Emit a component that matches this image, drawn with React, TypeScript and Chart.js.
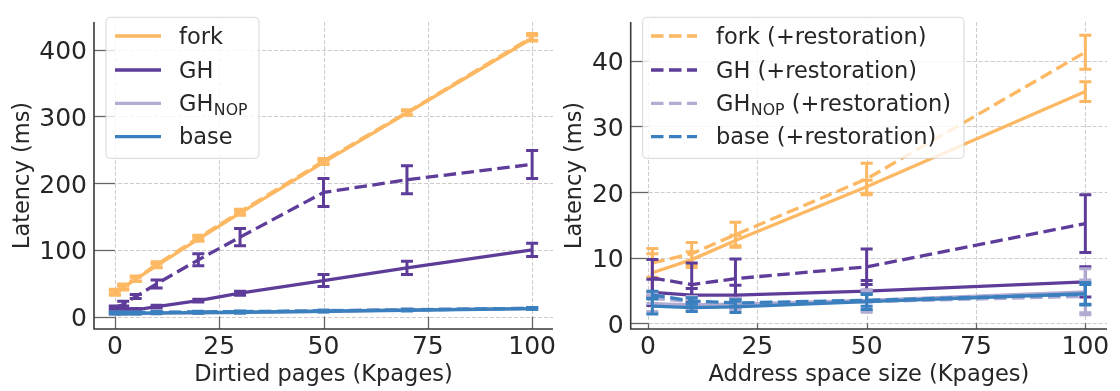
import { useEffect, useRef } from 'react';
import { Chart, registerables } from 'chart.js';

Chart.register(...registerables);

const FONT = '"DejaVu Sans", "Liberation Sans", sans-serif';
const TEXT = '#262626';
const ORANGE = '#fdb863';
const PURPLE = '#5e3c99';
const LAVENDER = '#b2abd2';
const BLUE = '#3a80bf';

// ---------- Left panel: Dirtied pages ----------
const leftX = [0, 2, 5, 10, 20, 30, 50, 70, 100];
const leftForkSolid = [35, 43, 56, 76, 116, 155, 231, 305, 417];
const leftForkSolidErr = [3, 3, 3, 3, 3, 3, 3, 3, 4];
const leftForkDashed = [37, 45, 57, 78, 118, 157, 233, 306, 419];
const leftForkDashedErr = [4, 4, 4, 4, 4, 4, 4, 4, 5];
const leftGhSolid = [13, 12, 10, 15, 24, 35, 54, 73, 100];
const leftGhSolidErr = [2, 4, 2, 2, 2, 3, 9, 10, 10];
const leftGhDashed = [13, 18, 30, 49, 85, 119, 186, 205, 228];
const leftGhDashedErr = [3, 5, 3, 6, 9, 13, 21, 21, 21];
const leftNopSolid = [4.5, 4.5, 4.5, 5, 5.5, 6, 8, 10, 12];
const leftNopSolidErr = [1, 1, 1, 1, 1, 1, 1, 1, 1];
const leftNopDashed = [5.5, 5.5, 5.5, 6, 6.5, 7, 9, 10.5, 12.5];
const leftNopDashedErr = [1, 1, 1, 1, 1, 1, 1, 1, 1];
const leftBaseSolid = [5, 5, 5, 5.5, 6, 6.5, 8, 9.5, 12];
const leftBaseSolidErr = [1, 1, 1, 1, 1, 1, 1, 1, 1];
const leftBaseDashed = [6, 6, 6, 6.5, 7, 7.5, 8.5, 10, 12.5];
const leftBaseDashedErr = [1, 1, 1, 1, 1, 1, 1, 1, 1];
const leftXTicks = [0, 25, 50, 75, 100];
const leftYTicks = [0, 100, 200, 300, 400];

// ---------- Right panel: Address space size ----------
const rightX = [1, 10, 20, 50, 100];
const rightForkSolid = [7.7, 9.7, 12.6, 20.8, 35.3];
const rightForkSolidErr = [2.9, 1.2, 0.8, 1.0, 1.5];
const rightForkDashed = [9.2, 10.6, 13.5, 22.0, 41.3];
const rightForkDashedErr = [2.2, 1.7, 1.9, 2.4, 2.6];
const rightGhSolid = [4.7, 4.3, 4.3, 4.9, 6.3];
const rightGhSolidErr = [2.0, 1.0, 1.5, 1.6, 2.3];
const rightGhDashed = [6.9, 5.9, 6.8, 8.6, 15.2];
const rightGhDashedErr = [2.8, 3.3, 3.0, 2.7, 4.4];
const rightNopSolid = [3.0, 2.8, 2.9, 3.5, 4.8];
const rightNopSolidErr = [1.2, 0.8, 0.8, 1.6, 3.5];
const rightNopDashed = [3.8, 3.3, 3.0, 3.3, 4.1];
const rightNopDashedErr = [0.8, 0.8, 0.8, 1.6, 2.5];
const rightBaseSolid = [2.6, 2.4, 2.5, 3.3, 4.5];
const rightBaseSolidErr = [1.2, 0.6, 0.85, 1.2, 1.7];
const rightBaseDashed = [4.3, 3.4, 3.1, 3.5, 4.4];
const rightBaseDashedErr = [0.6, 0.5, 0.5, 0.9, 1.5];
const rightXTicks = [0, 25, 50, 75, 100];
const rightYTicks = [0, 10, 20, 30, 40];

const leftLegendLabels = [
  { main: 'fork', sub: '', suffix: '' },
  { main: 'GH', sub: '', suffix: '' },
  { main: 'GH', sub: 'NOP', suffix: '' },
  { main: 'base', sub: '', suffix: '' },
];
const rightLegendLabels = [
  { main: 'fork (+restoration)', sub: '', suffix: '' },
  { main: 'GH (+restoration)', sub: '', suffix: '' },
  { main: 'GH', sub: 'NOP', suffix: ' (+restoration)' },
  { main: 'base (+restoration)', sub: '', suffix: '' },
];
const legendColors = [ORANGE, PURPLE, LAVENDER, BLUE];

const DASH = [12.5, 5.5];
const LW = 3.3;
const LABEL_PX = 22.5;

function series(xs: number[], ys: number[], errs: number[], color: string, dashed: boolean) {
  return {
    data: xs.map((x, i) => ({ x, y: ys[i] })),
    errors: errs,
    borderColor: color,
    backgroundColor: color,
    borderWidth: LW,
    borderDash: dashed ? DASH : [],
    borderCapStyle: 'butt',
    borderJoinStyle: 'round',
    pointRadius: 0,
    pointHoverRadius: 0,
    tension: 0,
    fill: false,
  };
}

interface PanelSpec {
  xs: number[];
  sets: [number[], number[], string, boolean][];
  xMin: number; xMax: number; yMin: number; yMax: number;
  xTicks: number[]; yTicks: number[];
  yAxisWidth: number; padRight: number;
  xTitle: string; yTitleX: number;
  legend: {
    box: [number, number, number, number];
    sx1: number; sx2: number; tx: number; rows: number[];
    labels: { main: string; sub: string; suffix: string }[];
    dashed: boolean;
  };
}

function makePlugin(spec: PanelSpec) {
  return {
    id: 'deco',
    beforeDatasetsDraw(chart: any) {
      const { ctx, chartArea: a, scales } = chart;
      const xs = scales.x, ys = scales.y;
      ctx.save();
      ctx.strokeStyle = '#cccccc';
      ctx.lineWidth = 1;
      ctx.setLineDash([4, 2]);
      spec.xTicks.forEach((v) => {
        const px = Math.round(xs.getPixelForValue(v)) + 0.5;
        ctx.beginPath(); ctx.moveTo(px, a.top); ctx.lineTo(px, a.bottom); ctx.stroke();
      });
      spec.yTicks.forEach((v) => {
        const py = Math.round(ys.getPixelForValue(v)) + 0.5;
        ctx.beginPath(); ctx.moveTo(a.left, py); ctx.lineTo(a.right, py); ctx.stroke();
      });
      ctx.restore();
    },
    afterDatasetDraw(chart: any, args: any) {
      const ds = chart.data.datasets[args.index];
      if (!ds.errors) return;
      const { ctx, scales } = chart;
      const xs = scales.x, ys = scales.y;
      ctx.save();
      ctx.strokeStyle = ds.borderColor;
      ctx.lineWidth = 3;
      ctx.setLineDash([]);
      ctx.lineCap = 'butt';
      ds.data.forEach((p: any, i: number) => {
        const e = ds.errors[i];
        const px = xs.getPixelForValue(p.x);
        const yt = ys.getPixelForValue(p.y + e);
        const yb = ys.getPixelForValue(p.y - e);
        ctx.beginPath();
        ctx.moveTo(px, yt); ctx.lineTo(px, yb);
        ctx.moveTo(px - 6, yt); ctx.lineTo(px + 6, yt);
        ctx.moveTo(px - 6, yb); ctx.lineTo(px + 6, yb);
        ctx.stroke();
      });
      ctx.restore();
    },
    afterDatasetsDraw(chart: any) {
      const { ctx, chartArea: a, scales } = chart;
      const xs = scales.x, ys = scales.y;
      ctx.save();
      ctx.setLineDash([]);
      // tick marks
      ctx.strokeStyle = '#666666';
      ctx.lineWidth = 1.3;
      const x0 = xs.getPixelForValue(0);
      const y0 = ys.getPixelForValue(0);
      spec.yTicks.forEach((v) => {
        const py = Math.round(ys.getPixelForValue(v)) + 0.5;
        ctx.beginPath(); ctx.moveTo(a.left, py); ctx.lineTo(x0, py); ctx.stroke();
      });
      spec.xTicks.forEach((v) => {
        const px = Math.round(xs.getPixelForValue(v)) + 0.5;
        ctx.beginPath(); ctx.moveTo(px, a.bottom); ctx.lineTo(px, y0); ctx.stroke();
      });
      // spines
      ctx.strokeStyle = '#3a3a3a';
      ctx.lineWidth = 1.6;
      ctx.beginPath();
      ctx.moveTo(a.left, a.top); ctx.lineTo(a.left, a.bottom); ctx.lineTo(a.right, a.bottom);
      ctx.stroke();

      // legend
      const L = spec.legend;
      const [bx1, by1, bx2, by2] = L.box;
      const r = 4.5;
      ctx.beginPath();
      ctx.moveTo(bx1 + r, by1);
      ctx.lineTo(bx2 - r, by1); ctx.quadraticCurveTo(bx2, by1, bx2, by1 + r);
      ctx.lineTo(bx2, by2 - r); ctx.quadraticCurveTo(bx2, by2, bx2 - r, by2);
      ctx.lineTo(bx1 + r, by2); ctx.quadraticCurveTo(bx1, by2, bx1, by2 - r);
      ctx.lineTo(bx1, by1 + r); ctx.quadraticCurveTo(bx1, by1, bx1 + r, by1);
      ctx.closePath();
      ctx.fillStyle = 'rgba(255,255,255,0.8)';
      ctx.fill();
      ctx.strokeStyle = 'rgba(204,204,204,0.8)';
      ctx.lineWidth = 1;
      ctx.stroke();
      L.labels.forEach((lab, i) => {
        const cy = L.rows[i];
        ctx.strokeStyle = legendColors[i];
        ctx.lineWidth = LW;
        ctx.setLineDash(L.dashed ? DASH : []);
        ctx.beginPath(); ctx.moveTo(L.sx1, cy); ctx.lineTo(L.sx2, cy); ctx.stroke();
        ctx.setLineDash([]);
        ctx.fillStyle = TEXT;
        ctx.textAlign = 'left';
        ctx.textBaseline = 'alphabetic';
        const base = cy + 7.5;
        let tx = L.tx;
        ctx.font = `${LABEL_PX}px ${FONT}`;
        ctx.fillText(lab.main, tx, base);
        tx += ctx.measureText(lab.main).width;
        if (lab.sub) {
          ctx.font = `${LABEL_PX * 0.7}px ${FONT}`;
          ctx.fillText(lab.sub, tx + 0.5, base + 3.8);
          tx += ctx.measureText(lab.sub).width + 0.5;
          ctx.font = `${LABEL_PX}px ${FONT}`;
        }
        if (lab.suffix) ctx.fillText(lab.suffix, tx, base);
      });

      // axis titles
      ctx.fillStyle = TEXT;
      ctx.font = `${LABEL_PX}px ${FONT}`;
      ctx.textAlign = 'center';
      ctx.textBaseline = 'alphabetic';
      ctx.fillText(spec.xTitle, (a.left + a.right) / 2, 381);
      ctx.translate(spec.yTitleX, (a.top + a.bottom) / 2);
      ctx.rotate(-Math.PI / 2);
      ctx.fillText('Latency (ms)', 0, 0);
      ctx.restore();
    },
  };
}

function makeConfig(spec: PanelSpec): any {
  const colors = [ORANGE, ORANGE, PURPLE, PURPLE, LAVENDER, LAVENDER, BLUE, BLUE];
  const datasets = spec.sets.map(([vals, errs, _c, dashed], i) => {
    const d: any = series(spec.xs, vals, errs, colors[i], dashed);
    d.order = 100 - i;
    return d;
  });
  const tickFont = { family: FONT, size: 25 };
  return {
    type: 'line',
    data: { datasets },
    plugins: [makePlugin(spec)],
    options: {
      responsive: false,
      animation: false,
      devicePixelRatio: 1,
      events: [],
      layout: { padding: { left: 0, right: spec.padRight, top: 7, bottom: 0 } },
      plugins: { legend: { display: false }, tooltip: { enabled: false } },
      scales: {
        x: {
          type: 'linear',
          min: spec.xMin,
          max: spec.xMax,
          grid: { display: false, drawTicks: false },
          border: { display: false },
          ticks: {
            font: tickFont, color: TEXT, padding: 3, maxRotation: 0, autoSkip: false,
            callback: (v: any) => String(v),
          },
          afterBuildTicks: (s: any) => { s.ticks = spec.xTicks.map((v) => ({ value: v })); },
          afterFit: (s: any) => { s.height = 62; },
        },
        y: {
          type: 'linear',
          min: spec.yMin,
          max: spec.yMax,
          grid: { display: false, drawTicks: false },
          border: { display: false },
          ticks: {
            font: tickFont, color: TEXT, padding: 7, labelOffset: 3, autoSkip: false,
            callback: (v: any) => String(v),
          },
          afterBuildTicks: (s: any) => { s.ticks = spec.yTicks.map((v) => ({ value: v })); },
          afterFit: (s: any) => { s.width = spec.yAxisWidth; },
        },
      },
    },
  };
}

const leftSpec: PanelSpec = {
  xs: leftX,
  sets: [
    [leftForkSolid, leftForkSolidErr, ORANGE, false],
    [leftForkDashed, leftForkDashedErr, ORANGE, true],
    [leftGhSolid, leftGhSolidErr, PURPLE, false],
    [leftGhDashed, leftGhDashedErr, PURPLE, true],
    [leftNopSolid, leftNopSolidErr, LAVENDER, false],
    [leftNopDashed, leftNopDashedErr, LAVENDER, true],
    [leftBaseSolid, leftBaseSolidErr, BLUE, false],
    [leftBaseDashed, leftBaseDashedErr, BLUE, true],
  ],
  xMin: -5, xMax: 105, yMin: -18.6, yMax: 441.4,
  xTicks: leftXTicks, yTicks: leftYTicks,
  yAxisWidth: 94, padRight: 7,
  xTitle: 'Dirtied pages (Kpages)', yTitleX: 29,
  legend: {
    box: [106, 17.3, 259, 158.3],
    sx1: 115, sx2: 161, tx: 179, rows: [36, 70, 103.3, 136.7],
    labels: leftLegendLabels, dashed: false,
  },
};

const rightSpec: PanelSpec = {
  xs: rightX,
  sets: [
    [rightForkSolid, rightForkSolidErr, ORANGE, false],
    [rightForkDashed, rightForkDashedErr, ORANGE, true],
    [rightGhSolid, rightGhSolidErr, PURPLE, false],
    [rightGhDashed, rightGhDashedErr, PURPLE, true],
    [rightNopSolid, rightNopSolidErr, LAVENDER, false],
    [rightNopDashed, rightNopDashedErr, LAVENDER, true],
    [rightBaseSolid, rightBaseSolidErr, BLUE, false],
    [rightBaseDashed, rightBaseDashedErr, BLUE, true],
  ],
  xMin: -3.95, xMax: 104.95, yMin: -0.87, yMax: 45.9,
  xTicks: rightXTicks, yTicks: rightYTicks,
  yAxisWidth: 70.7, padRight: 13,
  xTitle: 'Address space size (Kpages)', yTitleX: 581 - 560,
  legend: {
    box: [642.7 - 560, 17.3, 964 - 560, 158.3],
    sx1: 651 - 560, sx2: 697 - 560, tx: 716 - 560, rows: [36, 70, 103.3, 136.7],
    labels: rightLegendLabels, dashed: true,
  },
};

function Panel({ left, spec }: { left: number; spec: PanelSpec }) {
  const ref = useRef<HTMLCanvasElement>(null);
  useEffect(() => {
    const chart = new Chart(ref.current as HTMLCanvasElement, makeConfig(spec));
    return () => chart.destroy();
  }, [spec]);
  return (
    <canvas
      ref={ref}
      width={560}
      height={391}
      style={{ position: 'absolute', left, top: 0, width: 560, height: 391 }}
    />
  );
}

export default function App() {
  return (
    <div style={{ position: 'absolute', left: 0, top: 0, width: 1120, height: 391, background: '#ffffff' }}>
      <Panel left={0} spec={leftSpec} />
      <Panel left={560} spec={rightSpec} />
    </div>
  );
}
